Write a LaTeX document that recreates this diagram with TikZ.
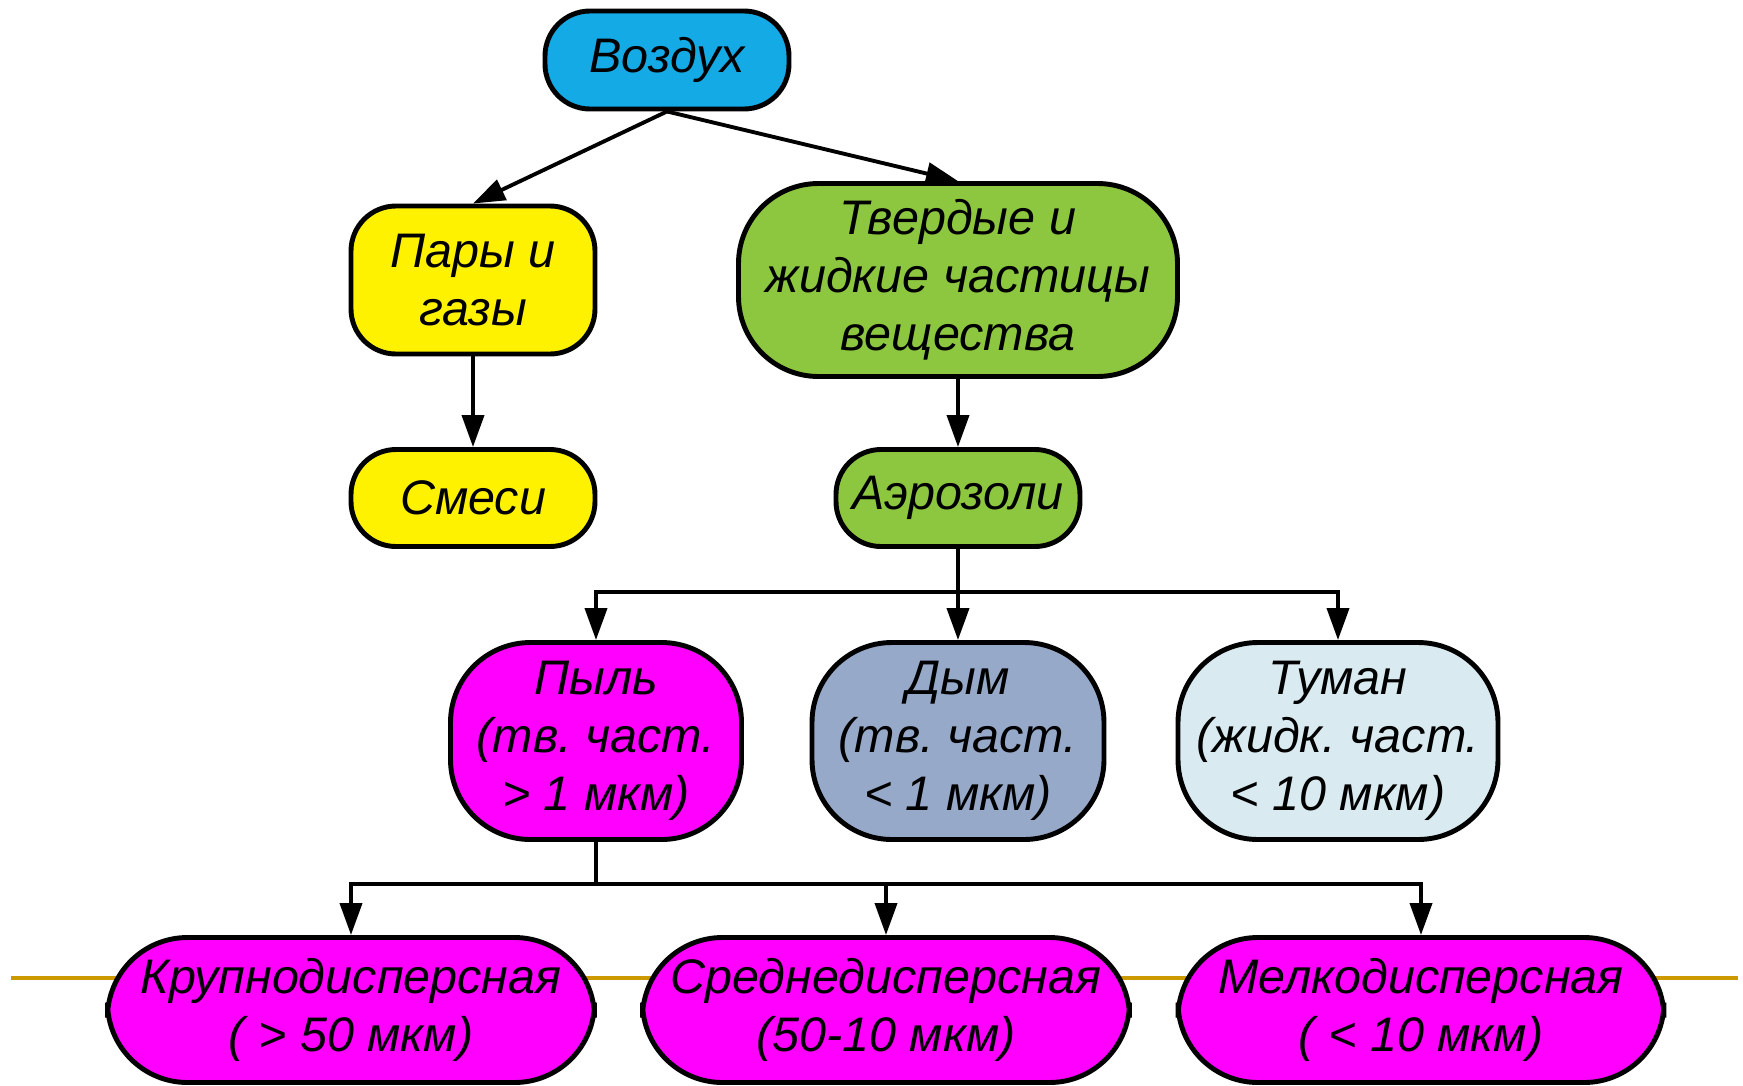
\documentclass[tikz,border=0pt]{standalone}
\usepackage{fontspec}
\setmainfont{Liberation Sans}
\usetikzlibrary{arrows.meta}
\definecolor{airblue}{RGB}{20,170,230}
\definecolor{leafgreen}{RGB}{141,198,63}
\definecolor{pinkish}{RGB}{255,0,255}
\definecolor{smokeblue}{RGB}{151,169,201}
\definecolor{fogblue}{RGB}{217,235,240}
\definecolor{goldline}{RGB}{204,153,0}
\frenchspacing

\begin{document}
\begin{tikzpicture}[
    box/.style={draw=black,line width=1.4pt,rounded corners=0.45cm,align=center,
        font=\fontsize{13.8}{16.5}\selectfont\itshape,inner sep=0pt},
    bigbox/.style={box,rounded corners=0.8cm},
    arr/.style={line width=1.1pt,-{Triangle[length=0.32cm,width=0.22cm]}},
    ]
    \useasboundingbox (0,0) rectangle (17.43,-10.85);
    % the golden line behind the lowest row
    \draw[line width=1.3pt,goldline] (0.11,-9.78)--(17.38,-9.78);
    % top levels
    \node[box,fill=airblue,minimum width=2.44cm,minimum height=0.98cm] (vozdukh) at (6.67,-0.60) {Воздух};
    \node[box,fill=yellow,minimum width=2.44cm,minimum height=1.48cm] (pary) at (4.73,-2.80) {Пары и\\газы};
    \node[bigbox,fill=leafgreen,minimum width=4.39cm,minimum height=1.93cm] (tverdye) at (9.58,-2.80) {Твердые и\\жидкие частицы\\вещества};
    \node[box,fill=yellow,minimum width=2.44cm,minimum height=0.97cm] (smesi) at (4.73,-4.98) {Смеси};
    \node[box,fill=leafgreen,minimum width=2.44cm,minimum height=0.97cm] (aerozoli) at (9.58,-4.98) {Аэрозоли};
    % the aerosols
    \node[bigbox,fill=pinkish,minimum width=2.91cm,minimum height=1.97cm] (pyl) at (5.96,-7.41) {Пыль\\(тв. част.\\> 1 мкм)};
    \node[bigbox,fill=smokeblue,minimum width=2.92cm,minimum height=1.97cm] (dym) at (9.58,-7.41) {Дым\\(тв. част.\\< 1 мкм)};
    \node[bigbox,fill=fogblue,minimum width=3.20cm,minimum height=1.97cm] (tuman) at (13.38,-7.41) {Туман\\(жидк. част.\\< 10 мкм)};
    % the dusts
    \node[bigbox,fill=pinkish,minimum width=4.87cm,minimum height=1.45cm] (krupno) at (3.51,-10.10) {Крупнодисперсная\\( > 50 мкм)};
    \node[bigbox,fill=pinkish,minimum width=4.87cm,minimum height=1.45cm] (sredne) at (8.86,-10.10) {Среднедисперсная\\(50-10 мкм)};
    \node[bigbox,fill=pinkish,minimum width=4.86cm,minimum height=1.45cm] (melko) at (14.21,-10.10) {Мелкодисперсная\\( < 10 мкм)};
    % the arrows
    \coordinate (bar1) at (9.58,-5.92);
    \coordinate (bar2) at (5.96,-8.84);
    \draw[arr] (vozdukh.south)--(pary.north);
    \draw[arr] (vozdukh.south)--(tverdye.north);
    \draw[arr] (pary.south)--(smesi.north);
    \draw[arr] (tverdye.south)--(aerozoli.north);
    \draw[line width=1.1pt] (aerozoli.south)--(bar1);
    \draw[arr] (bar1)-|(pyl.north);
    \draw[arr] (bar1)--(dym.north);
    \draw[arr] (bar1)-|(tuman.north);
    \draw[line width=1.1pt] (pyl.south)--(bar2);
    \draw[arr] (bar2)-|(krupno.north);
    \draw[arr] (bar2)-|(sredne.north);
    \draw[arr] (bar2)-|(melko.north);
\end{tikzpicture}
\end{document}
